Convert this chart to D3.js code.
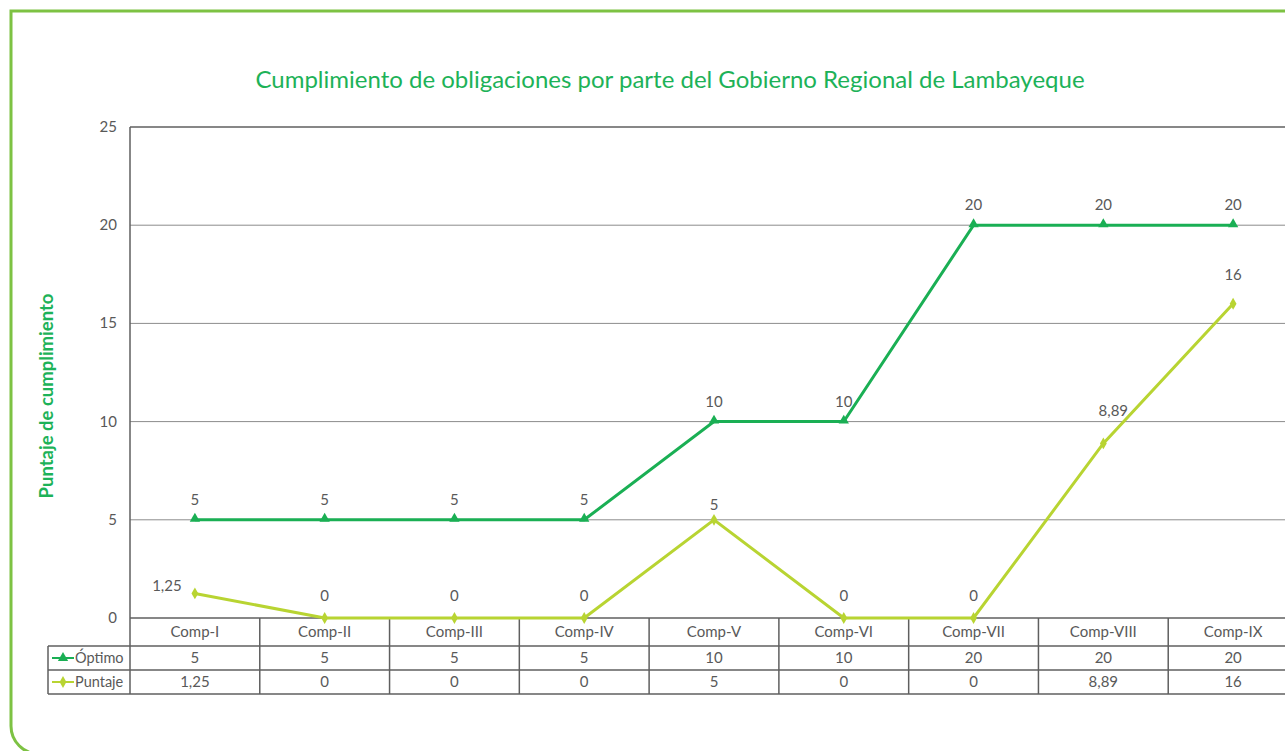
<!DOCTYPE html>
<html lang="es">
<head>
    <meta charset="UTF-8">
    <title>Cumplimiento de obligaciones</title>
    <style>
        body { margin: 0; background: #fff; }
        svg { display: block; font-family: Lato, "Noto Sans", sans-serif; }
        .tick-label { font-size: 15px; fill: #595959; }
        .cell { font-size: 15px; fill: #595959; text-anchor: middle; }
        .data-label { font-size: 15px; fill: #595959; text-anchor: middle; }
        .grid { stroke: #8c8c8c; stroke-width: 1; }
        .table-line { stroke: #5f5f5f; stroke-width: 1.5; }
    </style>
</head>
<body>
    <svg width="1285" height="751"></svg>

    <script src="https://d3js.org/d3.v7.min.js"></script>
    <script>
        // chart data
        const categories = ["Comp-I", "Comp-II", "Comp-III", "Comp-IV", "Comp-V", "Comp-VI", "Comp-VII", "Comp-VIII", "Comp-IX"];
        const optimo = [5, 5, 5, 5, 10, 10, 20, 20, 20];
        const puntaje = [1.25, 0, 0, 0, 5, 0, 0, 8.89, 16];
        const optimoText = ["5", "5", "5", "5", "10", "10", "20", "20", "20"];
        const puntajeText = ["1,25", "0", "0", "0", "5", "0", "0", "8,89", "16"];
        const yTicks = [0, 5, 10, 15, 20, 25];

        const green = "#1aaf54";
        const lime = "#b8d432";

        const svg = d3.select("svg");

        // frame with rounded bottom-left corner
        svg.append("path")
            .attr("d", "M1300,11 H11 V726 A 28 28 0 0 0 39 754 H1300")
            .attr("fill", "none")
            .attr("stroke", "#7dc243")
            .attr("stroke-width", 3);

        // title
        svg.append("text")
            .attr("x", 670)
            .attr("y", 88)
            .attr("text-anchor", "middle")
            .attr("fill", "#1db258")
            .style("font-size", "24px")
            .text("Cumplimiento de obligaciones por parte del Gobierno Regional de Lambayeque");

        const plotL = 130, plotR = 1298, plotT = 127, plotB = 618;

        const x = d3.scaleBand().domain(categories).range([plotL, plotR]);
        const y = d3.scaleLinear().domain([0, 25]).range([plotB, plotT]);

        // gridlines
        svg.append("g")
            .selectAll("line")
            .data(yTicks.filter(d => d > 0))
            .enter().append("line")
            .attr("class", "grid")
            .attr("x1", plotL).attr("x2", plotR)
            .attr("y1", d => y(d)).attr("y2", d => y(d))
            .style("stroke", d => d === 25 ? "#5f5f5f" : null)
            .style("stroke-width", d => d === 25 ? 1.5 : null);

        // y tick labels
        svg.append("g")
            .selectAll("text")
            .data(yTicks)
            .enter().append("text")
            .attr("class", "tick-label")
            .attr("x", 117)
            .attr("y", d => y(d) + 5)
            .attr("text-anchor", "end")
            .text(d => d);

        // y axis title
        svg.append("text")
            .attr("transform", "translate(53,396) rotate(-90)")
            .attr("text-anchor", "middle")
            .attr("fill", "#1db258")
            .style("font-size", "18.5px")
            .style("font-weight", "bold")
            .text("Puntaje de cumplimiento");

        // data table
        const rowH = [plotB, 646, 670, 694];
        const legendLeft = 48;
        const table = svg.append("g");

        table.append("line").attr("class", "table-line")
            .attr("x1", plotL).attr("x2", plotR).attr("y1", rowH[0]).attr("y2", rowH[0]);
        [rowH[1], rowH[2], rowH[3]].forEach(h => {
            table.append("line").attr("class", "table-line")
                .attr("x1", legendLeft).attr("x2", plotR).attr("y1", h).attr("y2", h);
        });
        table.append("line").attr("class", "table-line")
            .attr("x1", legendLeft).attr("x2", legendLeft).attr("y1", rowH[1]).attr("y2", rowH[3]);
        table.append("line").attr("class", "table-line")
            .attr("x1", plotL).attr("x2", plotL).attr("y1", plotT).attr("y2", rowH[3]);
        table.selectAll(".col")
            .data(categories.slice(1))
            .enter().append("line")
            .attr("class", "table-line")
            .attr("x1", d => x(d)).attr("x2", d => x(d))
            .attr("y1", rowH[0]).attr("y2", rowH[3]);

        table.selectAll(".cat")
            .data(categories)
            .enter().append("text")
            .attr("class", "cell")
            .attr("x", d => x(d) + x.bandwidth() / 2)
            .attr("y", 637)
            .text(d => d);

        table.selectAll(".opt")
            .data(optimoText)
            .enter().append("text")
            .attr("class", "cell")
            .attr("x", (d, i) => x(categories[i]) + x.bandwidth() / 2)
            .attr("y", 663)
            .text(d => d);

        table.selectAll(".pun")
            .data(puntajeText)
            .enter().append("text")
            .attr("class", "cell")
            .attr("x", (d, i) => x(categories[i]) + x.bandwidth() / 2)
            .attr("y", 687)
            .text(d => d);

        const triangle = d3.symbol().type(d3.symbolTriangle).size(46);
        const diamond = d3.symbol().type(d3.symbolDiamond).size(40);

        // legend keys inside the table
        const legend = [
            { name: "Óptimo", color: green, sym: triangle, yy: 658 },
            { name: "Puntaje", color: lime, sym: diamond, yy: 682 }
        ];
        legend.forEach(l => {
            table.append("line")
                .attr("x1", 52).attr("x2", 74)
                .attr("y1", l.yy).attr("y2", l.yy)
                .attr("stroke", l.color).attr("stroke-width", 2);
            table.append("path")
                .attr("d", l.sym())
                .attr("transform", "translate(63," + l.yy + ")")
                .attr("fill", l.color);
            table.append("text")
                .attr("x", 75).attr("y", l.yy + 5)
                .attr("fill", "#595959")
                .style("font-size", "14.5px")
                .text(l.name);
        });

        // series lines
        const cx = i => x(categories[i]) + x.bandwidth() / 2;
        const line = d3.line().x((d, i) => cx(i)).y(d => y(d));

        svg.append("path")
            .datum(optimo)
            .attr("fill", "none")
            .attr("stroke", green)
            .attr("stroke-width", 3)
            .attr("d", line);

        svg.append("path")
            .datum(puntaje)
            .attr("fill", "none")
            .attr("stroke", lime)
            .attr("stroke-width", 3)
            .attr("d", line);

        svg.append("g")
            .selectAll("path")
            .data(optimo)
            .enter().append("path")
            .attr("d", triangle)
            .attr("transform", (d, i) => "translate(" + cx(i) + "," + (y(d) - 1) + ")")
            .attr("fill", green);

        svg.append("g")
            .selectAll("path")
            .data(puntaje)
            .enter().append("path")
            .attr("d", diamond)
            .attr("transform", (d, i) => "translate(" + cx(i) + "," + y(d) + ")")
            .attr("fill", lime);

        // data labels
        svg.append("g")
            .selectAll("text")
            .data(optimoText)
            .enter().append("text")
            .attr("class", "data-label")
            .attr("x", (d, i) => cx(i))
            .attr("y", (d, i) => y(optimo[i]) - 15)
            .text(d => d);

        // label nudges for the Puntaje series [dx, dy]
        const puntajeNudge = [[-28, -2], [0, -17], [0, -17], [0, -17], [0, -10], [0, -17], [0, -17], [10, -27], [0, -24]];

        svg.append("g")
            .selectAll("text")
            .data(puntajeText)
            .enter().append("text")
            .attr("class", "data-label")
            .attr("x", (d, i) => cx(i) + puntajeNudge[i][0])
            .attr("y", (d, i) => y(puntaje[i]) + puntajeNudge[i][1])
            .text(d => d);
    </script>
</body>
</html>
